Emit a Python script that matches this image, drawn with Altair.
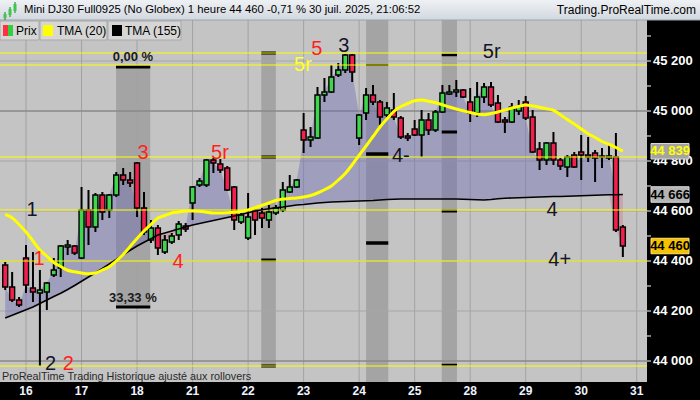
import altair as alt
import numpy as np
import pandas as pd

FONT = "Liberation Sans"

# ---------------- hourly bars, Mini DJ30 Full0925 (regular session) ----------------
opens = [44384, 44296, 44244, 44412, 44292, 44272, 44276, 44344, 44372, 44456,
         44460, 44412, 44604, 44536, 44664, 44604, 44664, 44744, 44724, 44792,
         44612, 44484, 44532, 44436, 44476, 44504, 44540, 44632, 44704, 44704,
         44804, 44788, 44772, 44696, 44556, 44492, 44604, 44592, 44564, 44592,
         44604, 44676, 44696, 44924, 44884, 44892, 45064, 45076, 45144, 45164,
         45224, 44892, 44992, 45064, 45036, 44984, 45004, 44972, 44900, 44928,
         44904, 44964, 44924, 44996, 45068, 45076, 45084, 45036, 44992, 45056,
         45096, 45032, 44964, 44956, 45000, 45036, 44976, 44848, 44804, 44872,
         44804, 44776, 44824, 44836, 44824, 44832, 44820, 44812, 44816, 44536]
highs = [44396, 44356, 44256, 44464, 44436, 44364, 44316, 44412, 44464, 44484,
         44464, 44696, 44684, 44672, 44676, 44668, 44756, 44772, 44756, 44796,
         44676, 44564, 44544, 44504, 44512, 44560, 44552, 44700, 44732, 44808,
         44812, 44808, 44780, 44700, 44604, 44672, 44616, 44612, 44624, 44624,
         44716, 44744, 44728, 44992, 44936, 45096, 45132, 45184, 45192, 45228,
         45228, 44988, 45092, 45104, 45044, 45036, 45072, 44980, 44912, 44964,
         45004, 44992, 45004, 45104, 45104, 45124, 45088, 45092, 45116, 45112,
         45116, 45064, 44976, 45032, 45044, 45060, 45004, 44876, 44876, 44916,
         44812, 44824, 44836, 44904, 44896, 44844, 44852, 44872, 44912, 44544]
lows = [44284, 44236, 44216, 44272, 44236, 43980, 44204, 44336, 44336, 44424,
        44424, 44408, 44464, 44516, 44564, 44572, 44656, 44704, 44696, 44576,
        44504, 44472, 44424, 44428, 44468, 44484, 44516, 44564, 44696, 44696,
        44752, 44752, 44680, 44524, 44548, 44484, 44504, 44532, 44532, 44584,
        44596, 44672, 44692, 44832, 44856, 44888, 45036, 45072, 45136, 45152,
        45116, 44864, 44964, 45024, 44944, 44976, 44964, 44888, 44880, 44900,
        44816, 44904, 44916, 44992, 45064, 45056, 45052, 44956, 44976, 45032,
        45016, 44952, 44912, 44952, 44984, 44964, 44832, 44764, 44784, 44784,
        44764, 44736, 44772, 44724, 44796, 44716, 44772, 44804, 44516, 44416]
closes = [44296, 44244, 44224, 44304, 44276, 44284, 44312, 44364, 44460, 44464,
          44432, 44604, 44536, 44664, 44596, 44664, 44744, 44724, 44712, 44612,
          44516, 44532, 44452, 44484, 44500, 44548, 44528, 44696, 44720, 44804,
          44792, 44764, 44684, 44564, 44584, 44576, 44564, 44572, 44596, 44612,
          44684, 44696, 44724, 44884, 44896, 45064, 45076, 45136, 45164, 45224,
          45156, 44984, 45064, 45036, 44976, 45012, 44976, 44896, 44892, 44904,
          44964, 44924, 44996, 45072, 45076, 45084, 45056, 44992, 45056, 45096,
          45024, 44956, 44956, 45016, 45016, 44972, 44836, 44804, 44872, 44804,
          44780, 44816, 44776, 44824, 44816, 44812, 44816, 44820, 44524, 44460]

# triangular moving averages
tma20 = [44586, 44573, 44546, 44516, 44480, 44444, 44419, 44394, 44378, 44363,
         44357, 44352, 44349, 44352, 44364, 44377, 44400, 44426, 44458, 44490,
         44520, 44546, 44572, 44582, 44592, 44596, 44600, 44600, 44599, 44595,
         44592, 44592, 44593, 44595, 44598, 44604, 44613, 44623, 44632, 44642,
         44648, 44650, 44652, 44656, 44662, 44672, 44685, 44700, 44724, 44750,
         44785, 44823, 44860, 44898, 44936, 44968, 44998, 45018, 45030, 45041,
         45044, 45039, 45033, 45025, 45016, 45008, 45001, 44994, 44988, 44985,
         44990, 44996, 45004, 45012, 45018, 45024, 45020, 45015, 45009, 45003,
         44985, 44966, 44948, 44928, 44909, 44894, 44878, 44867, 44854, 44839]
tma155 = [44172, 44183, 44194, 44205, 44216, 44230, 44244, 44258, 44271, 44286,
          44302, 44319, 44336, 44353, 44370, 44388, 44406, 44425, 44443, 44460,
          44475, 44489, 44504, 44512, 44520, 44528, 44536, 44544, 44550, 44556,
          44562, 44568, 44574, 44580, 44587, 44593, 44600, 44605, 44609, 44613,
          44616, 44620, 44624, 44626, 44629, 44632, 44634, 44636, 44637, 44638,
          44639, 44640, 44641, 44642, 44644, 44646, 44647, 44648, 44648, 44648,
          44648, 44648, 44648, 44648, 44648, 44648, 44647, 44646, 44645, 44644,
          44646, 44649, 44651, 44652, 44653, 44654, 44655, 44656, 44657, 44658,
          44658, 44659, 44660, 44661, 44662, 44663, 44664, 44665, 44665, 44666]

# session ticks on the time axis (bar index of the first bar of each day)
day_index = [3, 11, 19, 27, 35, 43, 51, 59, 67, 75, 83, 91]
day_labels = ["16", "17", "18", "21", "22", "23", "24", "25", "28", "29", "30", "31"]

price_ticks = list(range(44000, 45400, 100))
price_labels = [44000, 44200, 44400, 44600, 44800, 45000, 45200]
grid_levels = [44000, 44200, 44400, 44600, 44800, 45000, 45200]
major_levels = [44000, 45000]
yellow_levels = [45232, 45184, 44816, 44604, 44400, 43980]

# shaded time zones (bar index range, price range)
zone_start = [15.97, 36.9, 52.0, 62.9]
zone_end = [20.9, 39.0, 55.2, 65.1]
zone_top = [45176, 45232, 45364, 45364]
zone_bottom = [44216, 43976, 43916, 43916]

# short black markers inside the zones
marker_zone = [0, 0, 1, 1, 1, 1, 2, 2, 2, 3, 3, 3, 3]
marker_price = [45176, 44216, 45232, 44816, 44404, 43980,
                45184, 44828, 44472, 45224, 44916, 44600, 43984]
marker_width = [3, 3, 3, 3, 3, 3, 2, 3.5, 3.5, 2.5, 3, 3, 2.5]

# wave counts
wave_text = ["1", "1", "2", "2", "3", "4", "5r", "5r", "5", "3", "4-", "5r", "4", "4+"]
wave_index = [3.86, 4.87, 6.55, 9.1, 19.86, 24.9, 30.95, 42.9, 44.9, 48.8, 57.0, 70.1, 78.8, 79.9]
wave_price = [44604, 44408, 43988, 43988, 44832, 44396, 44832, 45184, 45248, 45260,
              44820, 45236, 44604, 44404]
wave_kind = ["k", "r", "k", "r", "r", "r", "r", "y", "r", "k", "k", "k", "k", "k"]

pct_text = ["0,00 %", "33,33 %"]
pct_index = [18.4, 18.4]
pct_price = [45216, 44252]

title_text = "Mini DJ30 Full0925 (No Globex) 1 heure 44 460 -0,71 % 30 juil. 2025, 21:06:52"
site_text = "Trading.ProRealTime.com"
footer_text = "ProRealTime Trading  Historique ajusté aux rollovers"
legend_text = ["Prix", "TMA (20)", "TMA (155)"]

# ---------------- styling ----------------
GREEN = "#3fd64e"
RED = "#f2204c"
WAVE_COLORS = {"k": "#14142a", "r": "#ff1f1f", "y": "#ffff30"}

W, H = 647, 362
xs = alt.Scale(domain=[-0.75, 92.48], nice=False, zero=False)
ys = alt.Scale(domain=[43916, 45364], nice=False, zero=False)


def X(field):
    return alt.X(field, type="quantitative", scale=xs, axis=None)


def Y(field):
    return alt.Y(field, type="quantitative", scale=ys, axis=None)


n = len(closes)
bars = pd.DataFrame({"i": np.arange(n), "open": opens, "high": highs, "low": lows,
                     "close": closes, "tma20": tma20, "tma155": tma155})
bars["body"] = np.where(bars["close"] >= bars["open"], GREEN, RED)
bars["x0"] = bars["i"] - 0.36
bars["x1"] = bars["i"] + 0.36
bars["above"] = np.maximum(bars["close"], bars["tma155"])
bars["below"] = np.minimum(bars["close"], bars["tma155"])
base = alt.Chart(bars)

zones = pd.DataFrame({"a": zone_start, "b": zone_end, "t": zone_top, "u": zone_bottom})
zone_layer = alt.Chart(zones).mark_rect(color="#000000", opacity=0.16).encode(
    x=X("a"), x2="b", y=Y("t"), y2="u")

vgrid = alt.Chart(pd.DataFrame({"d": day_index})).mark_rule(
    color="#a2a2a2", strokeWidth=1).encode(x=X("d"))
hgrid = alt.Chart(pd.DataFrame({"p": grid_levels})).mark_rule(
    color="#a6a6a6", strokeWidth=1).encode(y=Y("p"))
hmajor = alt.Chart(pd.DataFrame({"p": major_levels})).mark_rule(
    color="#7a7a7a", strokeWidth=1).encode(y=Y("p"))

area_up = base.mark_area(color="#6a6ab5", opacity=0.4).encode(
    x=X("i"), y=Y("above"), y2="tma155")
area_dn = base.mark_area(color="#d25c74", opacity=0.3).encode(
    x=X("i"), y=Y("below"), y2="tma155")

mk = pd.DataFrame({"a": [zone_start[z] for z in marker_zone],
                   "b": [zone_end[z] for z in marker_zone],
                   "p": marker_price, "w": marker_width})
markers = alt.Chart(mk).mark_rule(color="#000000").encode(
    x=X("a"), x2="b", y=Y("p"), strokeWidth=alt.StrokeWidth("w:Q", scale=None))

yellow = alt.Chart(pd.DataFrame({"p": yellow_levels})).mark_rule(
    color="#ffff00", strokeWidth=1.2).encode(y=Y("p"))

wicks = base.mark_rule(color="#000000", strokeWidth=2).encode(
    x=X("i"), y=Y("low"), y2="high:Q")
bodies = base.mark_rect(stroke="#000000", strokeWidth=1.4).encode(
    x=X("x0"), x2="x1", y=Y("open"), y2="close",
    color=alt.Color("body:N", scale=None))

line155 = base.mark_line(color="#000000", strokeWidth=1.6).encode(x=X("i"), y=Y("tma155"))
line20 = base.mark_line(color="#ffff00", strokeWidth=3, interpolate="monotone").encode(
    x=X("i"), y=Y("tma20"))

waves = pd.DataFrame({"t": wave_text, "i": wave_index, "p": wave_price,
                      "c": [WAVE_COLORS[k] for k in wave_kind]})
wave_layer = alt.Chart(waves).mark_text(font=FONT, fontSize=20, align="center",
                                        baseline="middle").encode(
    x=X("i"), y=Y("p"), text="t:N", color=alt.Color("c:N", scale=None))

pcts = pd.DataFrame({"t": pct_text, "i": pct_index, "p": pct_price})
pct_layer = alt.Chart(pcts).mark_text(font=FONT, fontSize=13, fontWeight="bold",
                                      color="#1a1a1a", align="center",
                                      baseline="middle").encode(
    x=X("i"), y=Y("p"), text="t:N")

one = pd.DataFrame({"k": [0]})
footer = alt.Chart(pd.DataFrame({"t": [footer_text]})).mark_text(
    font=FONT, fontSize=10.8, color="#2a2a2a", align="left", baseline="middle").encode(
    x=alt.value(2), y=alt.value(357), text="t:N")

# time axis labels in the black band under the plot
xlab = alt.Chart(pd.DataFrame({"d": day_index, "t": day_labels})).mark_text(
    font=FONT, fontSize=12, fontWeight="bold", color="#eef4ff",
    align="center", baseline="middle").encode(x=X("d"), y=alt.value(H + 9), text="t:N")

# price scale on the right
yticks = alt.Chart(pd.DataFrame({"p": price_ticks})).mark_rule(
    color="#ffffff", strokeWidth=1).encode(x=alt.value(W), x2=alt.value(W + 4), y=Y("p"))
ylab_df = pd.DataFrame({"p": price_labels,
                        "t": [f"{v:,}".replace(",", " ") for v in price_labels]})
ylab = alt.Chart(ylab_df).mark_text(
    font=FONT, fontSize=13, fontWeight="bold", color="#ffffff",
    align="left", baseline="middle").encode(x=alt.value(W + 6), y=Y("p"), text="t:N")

# header bar with instrument line
header_fill = alt.Gradient(gradient="linear",
                           stops=[alt.GradientStop(color="#eef1f4", offset=0),
                                  alt.GradientStop(color="#d2d8df", offset=1)],
                           x1=0, x2=0, y1=0, y2=1)
header = alt.Chart(one).mark_rect(color=header_fill).encode(
    x=alt.value(0), x2=alt.value(700), y=alt.value(-20), y2=alt.value(0))
header_line = alt.Chart(one).mark_rule(color="#9aa3ad", strokeWidth=1).encode(
    x=alt.value(0), x2=alt.value(700), y=alt.value(0))
title = alt.Chart(pd.DataFrame({"t": [title_text]})).mark_text(
    font=FONT, fontSize=11.3, color="#000000", align="left", baseline="middle").encode(
    x=alt.value(24), y=alt.value(-10), text="t:N")
site = alt.Chart(pd.DataFrame({"t": [site_text]})).mark_text(
    font=FONT, fontSize=12, color="#000000", align="right", baseline="middle").encode(
    x=alt.value(696), y=alt.value(-10), text="t:N")

icon = []
for (ix, top, bot) in [(5, -6, -2), (10, -11, -5), (15, -16, -9)]:
    icon.append(alt.Chart(one).mark_rule(color="#1f7a2a", strokeWidth=1).encode(
        x=alt.value(ix), y=alt.value(top - 2), y2=alt.value(bot + 2)))
    icon.append(alt.Chart(one).mark_rect(color="#38c84a").encode(
        x=alt.value(ix - 1.5), x2=alt.value(ix + 1.5), y=alt.value(top), y2=alt.value(bot)))

# legend boxes
legend = []
box_l = [0, 40, 108]
box_r = [39, 107, 181]
text_x = [16, 57, 125]
sw_l = [3, 43, 112]
for k in range(3):
    legend.append(alt.Chart(one).mark_rect(color="#d6d6d6", stroke="#a8a8a8", strokeWidth=1).encode(
        x=alt.value(box_l[k]), x2=alt.value(box_r[k]), y=alt.value(1), y2=alt.value(20)))
    legend.append(alt.Chart(pd.DataFrame({"t": [legend_text[k]]})).mark_text(
        font=FONT, fontSize=12, color="#000000", align="left", baseline="middle").encode(
        x=alt.value(text_x[k]), y=alt.value(11), text="t:N"))
legend.append(alt.Chart(one).mark_rect(color="#ff3040").encode(
    x=alt.value(sw_l[0]), x2=alt.value(sw_l[0] + 5), y=alt.value(5), y2=alt.value(16)))
legend.append(alt.Chart(one).mark_rect(color="#30d040").encode(
    x=alt.value(sw_l[0] + 5), x2=alt.value(sw_l[0] + 10), y=alt.value(5), y2=alt.value(16)))
legend.append(alt.Chart(one).mark_rect(color="#ffff00").encode(
    x=alt.value(sw_l[1]), x2=alt.value(sw_l[1] + 10), y=alt.value(5), y2=alt.value(16)))
legend.append(alt.Chart(one).mark_rect(color="#000000").encode(
    x=alt.value(sw_l[2]), x2=alt.value(sw_l[2] + 10), y=alt.value(5), y2=alt.value(16)))

# last-value tags on the price scale
tags = pd.DataFrame({"v": [tma20[-1], tma155[-1], closes[-1]],
                     "fill": ["#a4a4a4", "#b4b4b4", "#f6c200"],
                     "edge": ["#d8d8d8", "#dcdcdc", "#ffe07a"],
                     "ink": ["#ffff00", "#000000", "#000000"]})
tag_base = alt.Chart(tags).transform_calculate(
    top="datum.v + 31", bot="datum.v - 31",
    label="replace(format(datum.v, ','), ',', ' ')")
tag_box = tag_base.mark_rect(strokeWidth=1).encode(
    x=alt.value(651), x2=alt.value(689), y=Y("top:Q"), y2="bot:Q",
    color=alt.Color("fill:N", scale=None), stroke=alt.Stroke("edge:N", scale=None))
tag_text = tag_base.mark_text(font=FONT, fontSize=13, fontWeight="bold",
                              align="center", baseline="middle").encode(
    x=alt.value(670), y=Y("v:Q"), text="label:N", color=alt.Color("ink:N", scale=None))

chart = alt.layer(
    zone_layer, vgrid, hgrid, hmajor, area_up, area_dn, markers,
    wicks, bodies, yellow, line155, line20, wave_layer, pct_layer, footer,
    xlab, yticks, ylab,
    header, header_line, title, site, *icon, *legend, tag_box, tag_text
).properties(
    width=W, height=H, background="#000000",
    padding={"left": 0, "top": 20, "right": 53, "bottom": 18},
    autosize=alt.AutoSizeParams(type="none"),
).configure_view(fill="#c4c4c4", strokeWidth=0)

chart.save("out.html", embed_options={"renderer": "svg", "actions": False})
